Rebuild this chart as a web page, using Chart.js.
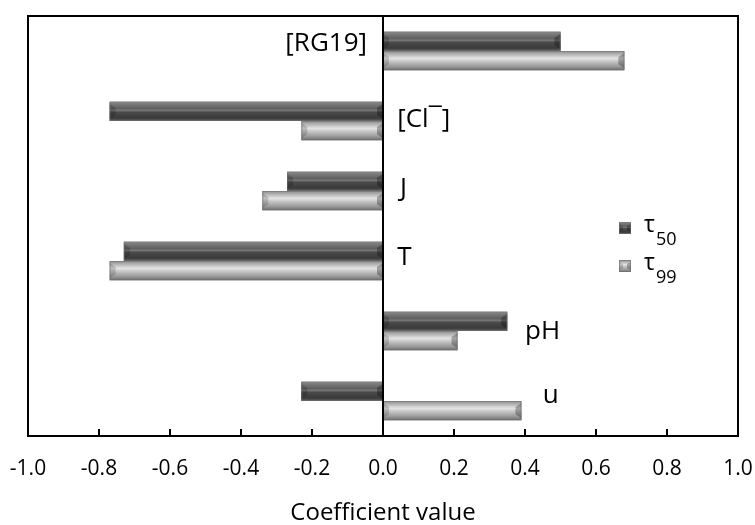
<!DOCTYPE html>
<html>
<head>
<meta charset="utf-8">
<script src="https://cdn.jsdelivr.net/npm/chart.js@4.4.1/dist/chart.umd.min.js"></script>
<style>
  html, body { margin: 0; padding: 0; background: #fff; }
  #wrap { width: 755px; height: 525px; }
</style>
</head>
<body>
<div id="wrap"><canvas id="chart"></canvas></div>
<script>
// data
const categories = ['[RG19]', '[Cl\u00AF]', 'J', 'T', 'pH', 'u'];
const tau50 = [0.50, -0.77, -0.27, -0.73, 0.35, -0.23];
const tau99 = [0.68, -0.23, -0.34, -0.77, 0.21, 0.39];
const xTicks = [-1.0, -0.8, -0.6, -0.4, -0.2, 0.0, 0.2, 0.4, 0.6, 0.8, 1.0];

const FONT = "'Open Sans', 'Liberation Sans', sans-serif";

// where each category name sits (value on x, pixel shift from category centre)
const labelSpots = [
  { x: -0.045, dy: -7, align: 'right' },
  { x: 0.04, dy: -1, align: 'left' },
  { x: 0.048, dy: -2, align: 'left' },
  { x: 0.04, dy: -3, align: 'left' },
  { x: 0.40, dy: 1, align: 'left' },
  { x: 0.45, dy: -5, align: 'left' }
];

// bevel look for the bars
const shades = [
  [[0, '#9c9c9c'], [0.1, '#7c7c7c'], [0.35, '#606060'], [0.45, '#767676'], [0.55, '#4a4a4a'], [0.85, '#3a3a3a'], [1, '#666666']],
  [[0, '#8c8c8c'], [0.12, '#a8a8a8'], [0.38, '#e4e4e4'], [0.55, '#c4c4c4'], [0.8, '#9a9a9a'], [1, '#6e6e6e']]
];

function shadedRect(ctx, left, right, top, bottom, stops) {
  const g = ctx.createLinearGradient(0, top, 0, bottom);
  stops.forEach(s => g.addColorStop(s[0], s[1]));
  ctx.fillStyle = g;
  ctx.fillRect(left, top, right - left, bottom - top);
  const h = bottom - top;
  const d = Math.min(6, h / 3, (right - left) / 2);
  // far end facet
  ctx.fillStyle = 'rgba(0,0,0,0.28)';
  ctx.beginPath();
  ctx.moveTo(right, top + 2); ctx.lineTo(right - d, top + d);
  ctx.lineTo(right - d, bottom - d); ctx.lineTo(right, bottom - 2);
  ctx.closePath(); ctx.fill();
  // base end facet
  ctx.fillStyle = 'rgba(0,0,0,0.16)';
  ctx.beginPath();
  ctx.moveTo(left, top + 2); ctx.lineTo(left + d, top + d);
  ctx.lineTo(left + d, bottom - d); ctx.lineTo(left, bottom - 2);
  ctx.closePath(); ctx.fill();
  ctx.strokeStyle = 'rgba(110,110,110,0.55)';
  ctx.lineWidth = 1;
  ctx.strokeRect(left + 0.5, top + 0.5, right - left - 1, h - 1);
}

const bevelBars = {
  id: 'bevelBars',
  afterDatasetsDraw(chart) {
    const ctx = chart.ctx;
    ctx.save();
    chart.data.datasets.forEach((ds, i) => {
      chart.getDatasetMeta(i).data.forEach(bar => {
        const p = bar.getProps(['x', 'y', 'base', 'height'], true);
        const left = Math.min(p.x, p.base), right = Math.max(p.x, p.base);
        shadedRect(ctx, left, right, p.y - p.height / 2, p.y + p.height / 2, shades[i]);
      });
    });
    ctx.restore();
  }
};

const frame = {
  id: 'frame',
  afterDraw(chart) {
    const { ctx, chartArea: a, scales: { x, y } } = chart;
    ctx.save();
    // tick marks pointing inwards
    ctx.strokeStyle = '#000';
    ctx.lineWidth = 2;
    xTicks.forEach(v => {
      const px = Math.round(x.getPixelForValue(v));
      ctx.beginPath(); ctx.moveTo(px, a.bottom); ctx.lineTo(px, a.bottom - 7); ctx.stroke();
    });
    // zero line
    const zx = Math.round(x.getPixelForValue(0));
    ctx.beginPath(); ctx.moveTo(zx, a.top); ctx.lineTo(zx, a.bottom); ctx.stroke();
    // box
    ctx.strokeRect(a.left, a.top, a.right - a.left, a.bottom - a.top);

    // category names
    ctx.fillStyle = '#000';
    ctx.font = '26px ' + FONT;
    ctx.textBaseline = 'middle';
    categories.forEach((c, i) => {
      const s = labelSpots[i];
      ctx.textAlign = s.align;
      ctx.fillText(c, x.getPixelForValue(s.x), y.getPixelForValue(i) + s.dy);
    });

    // legend
    const items = [{ sub: '50', top: 222 }, { sub: '99', top: 260 }];
    items.forEach((it, i) => {
      shadedRect(ctx, 619, 631, it.top, it.top + 12, shades[i]);
      ctx.fillStyle = '#000';
      ctx.textAlign = 'left';
      ctx.textBaseline = 'alphabetic';
      ctx.font = '23px ' + FONT;
      ctx.fillText('\u03C4', 644, it.top + 10);
      const w = ctx.measureText('\u03C4').width;
      ctx.font = '18px ' + FONT;
      ctx.fillText(it.sub, 644 + w + 1, it.top + 23);
    });
    ctx.restore();
  }
};

new Chart(document.getElementById('chart'), {
  type: 'bar',
  data: {
    labels: categories,
    datasets: [
      { label: '\u03C450', data: tau50, backgroundColor: '#555555', borderWidth: 0 },
      { label: '\u03C499', data: tau99, backgroundColor: '#aaaaaa', borderWidth: 0 }
    ]
  },
  options: {
    indexAxis: 'y',
    responsive: true,
    maintainAspectRatio: false,
    animation: false,
    categoryPercentage: 0.55,
    barPercentage: 1.0,
    layout: { padding: { left: 28, right: 17, top: 16, bottom: 0 } },
    scales: {
      x: {
        min: -1,
        max: 1,
        afterBuildTicks: s => { s.ticks = xTicks.map(v => ({ value: v })); },
        afterFit: s => { s.height = 89; s.paddingLeft = 0; s.paddingRight = 0; },
        grid: { display: false, drawTicks: false },
        border: { display: false },
        ticks: {
          padding: 20,
          color: '#000',
          font: { family: FONT, size: 21 },
          maxRotation: 0,
          callback: v => Number(v).toFixed(1)
        },
        title: {
          display: true,
          text: 'Coefficient value',
          color: '#000',
          padding: 0,
          font: { family: FONT, size: 24, lineHeight: 1 }
        }
      },
      y: { display: false }
    },
    plugins: {
      legend: { display: false },
      tooltip: { enabled: false }
    }
  },
  plugins: [bevelBars, frame]
});
</script>
</body>
</html>
